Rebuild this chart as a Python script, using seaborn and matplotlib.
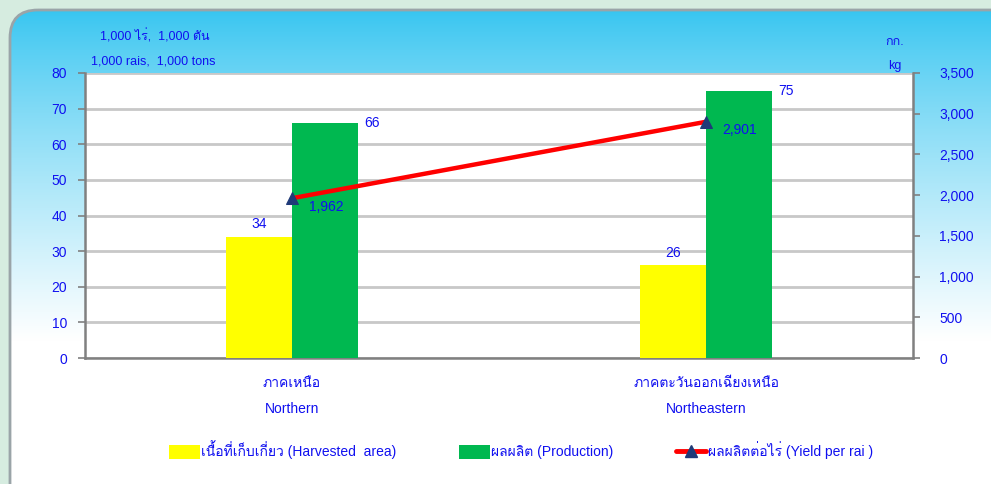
import numpy as np
import pandas as pd
import matplotlib
matplotlib.use("Agg")
import matplotlib.pyplot as plt
import seaborn as sns
from matplotlib import font_manager as fm
from matplotlib.patches import FancyBboxPatch, Patch
from matplotlib.lines import Line2D
import matplotlib.transforms as mtransforms

# ---------------- data ----------------
regions_th = ["ภาคเหนือ", "ภาคตะวันออกเฉียงเหนือ"]
regions_en = ["Northern", "Northeastern"]
harvested = [34, 26]          # 1,000 rai
production = [66, 75]         # 1,000 tons
yield_per_rai = [1962, 2901]  # kg
left_ticks = [0, 10, 20, 30, 40, 50, 60, 70, 80]
right_ticks = [0, 500, 1000, 1500, 2000, 2500, 3000, 3500]
series_names = ["เนื้อที่เก็บเกี่ยว (Harvested  area)", "ผลผลิต (Production)", "ผลผลิตต่อไร่ (Yield per rai )"]

# ---------------- fonts ----------------
sns.set_theme(style="white")
thai_fams = []
try:
    from fontTools.ttLib import TTFont
    for f in fm.fontManager.ttflist:
        try:
            tt = TTFont(f.fname, fontNumber=0, lazy=True)
            cmap = tt.getBestCmap()
            if cmap and 0x0E20 in cmap and f.name not in thai_fams:
                thai_fams.append(f.name)
        except Exception:
            pass
except Exception:
    pass
pref = [n for n in ["Loma", "Anuphan"] if n in thai_fams]
others = [n for n in thai_fams if n not in pref and "Unifont" not in n]
fams = ["Liberation Sans"] + pref + others + ["DejaVu Sans"]
plt.rcParams["font.family"] = fams
TXT = "#1010f0"

W, H = 991, 484
fig = plt.figure(figsize=(W / 100, H / 100), dpi=100)
fig.patch.set_facecolor("#d6ece0")

# background panel with gradient
bg = fig.add_axes([0, 0, 1, 1], zorder=-10)
bg.set_xlim(0, W); bg.set_ylim(H, 0); bg.axis("off")
panel = FancyBboxPatch((10, 10), W + 40, H + 40, boxstyle="round,pad=0,rounding_size=28",
                       facecolor="none", edgecolor="#9aa4a8", lw=2.0)
bg.add_patch(panel)
yy = np.linspace(0, 1, 300)[:, None]
t = np.clip(yy * H / 340.0, 0, 1) ** 0.8
c0 = np.array([0.17, 0.76, 0.94]); c1 = np.array([1.0, 1.0, 1.0])
grad = (c0[None, None, :] * (1 - t[..., None]) + c1[None, None, :] * t[..., None])
grad = np.repeat(grad, 2, axis=1)
im = bg.imshow(grad, extent=[0, W, H, 0], aspect="auto", zorder=0)
im.set_clip_path(panel)

# main axes
x0, x1, ytop, ybot = 85, 913, 73, 358
ax = fig.add_axes([x0 / W, (H - ybot) / H, (x1 - x0) / W, (ybot - ytop) / H])
ax.set_facecolor("white")

df = pd.DataFrame({
    "region": regions_en * 2,
    "series": [series_names[0]] * 2 + [series_names[1]] * 2,
    "value": harvested + production,
})
sns.barplot(data=df, x="region", y="value", hue="series",
            palette=["#ffff00", "#00b850"], width=0.32, gap=0,
            saturation=1, ax=ax, legend=False, zorder=3, linewidth=0)

ax.set_xlim(-0.5, 1.5)
ax.set_ylim(0, 80)
ax.set_yticks(left_ticks)
ax.set_yticklabels([str(v) for v in left_ticks], color=TXT, fontsize=10)
ax.yaxis.grid(True, color="#c8c8c8", lw=2.0, zorder=0)
ax.set_axisbelow(True)
ax.set_xticks([])
ax.set_xticks([-0.5, 0.5, 1.5], minor=True)
ax.tick_params(axis="x", which="minor", length=5, color="#808080", width=1.2, direction="out")
ax.tick_params(axis="y", length=5, color="#808080", width=1.2, direction="out", pad=8, left=True)
ax.set_xlabel(""); ax.set_ylabel("")
for s in ["left", "bottom", "right"]:
    ax.spines[s].set_color("#808080"); ax.spines[s].set_linewidth(1.8)
ax.spines["top"].set_visible(False)

# bar value labels
bar_pos = [-0.08, 0.92]
for i in range(2):
    ax.annotate(f"{harvested[i]}", (bar_pos[i], harvested[i]), xytext=(0, 4),
                textcoords="offset points", ha="center", va="bottom", color=TXT, fontsize=10)
    ax.annotate(f"{production[i]}", (bar_pos[i] + 0.16 + 0.08, production[i]), xytext=(4, 0),
                textcoords="offset points", ha="left", va="center", color=TXT, fontsize=10)

# category labels
trans = mtransforms.blended_transform_factory(ax.transData, fig.transFigure)
for i in range(2):
    ax.text(i, 1 - 383 / H, regions_th[i], transform=trans, ha="center", va="center",
            color=TXT, fontsize=10)
    ax.text(i, 1 - 409 / H, regions_en[i], transform=trans, ha="center", va="center",
            color=TXT, fontsize=10)

# secondary axis
ax2 = ax.twinx()
sns.lineplot(x=[0, 1], y=yield_per_rai, ax=ax2, color="#ff0000", lw=3.2, zorder=5,
             marker="^", markersize=9, markerfacecolor="#1f3a78", markeredgecolor="#1f3a78")
ax2.set_ylim(0, 3500)
ax2.set_yticks(right_ticks)
ax2.set_yticklabels([f"{v:,}" for v in right_ticks], color=TXT, fontsize=10)
ax2.tick_params(axis="y", length=5, color="#808080", width=1.2, direction="out", pad=14, right=True)
ax2.grid(False)
for s in ax2.spines.values():
    s.set_visible(False)
for i in range(2):
    ax2.annotate(f"{yield_per_rai[i]:,}", (i, yield_per_rai[i]), xytext=(12, -6),
                 textcoords="offset points", ha="left", va="center", color=TXT, fontsize=10)

# unit labels
fig.text(100 / W, 1 - 36 / H, "1,000 ไร่,  1,000 ตัน", color=TXT, fontsize=9, va="center", ha="left")
fig.text(91 / W, 1 - 61 / H, "1,000 rais,  1,000 tons", color=TXT, fontsize=9, va="center", ha="left")
fig.text(895 / W, 1 - 42 / H, "กก.", color=TXT, fontsize=9, va="center", ha="center")
fig.text(895 / W, 1 - 66 / H, "kg", color=TXT, fontsize=9, va="center", ha="center")

# legend
handles = [Patch(facecolor="#ffff00", edgecolor="none"),
           Patch(facecolor="#00b850", edgecolor="none"),
           Line2D([0], [0], color="#ff0000", lw=3.5, marker="^", markersize=9,
                  markerfacecolor="#1f3a78", markeredgecolor="#1f3a78")]
leg = fig.legend(handles, series_names, loc="center", bbox_to_anchor=(521 / W, 1 - 450 / H),
                 ncol=3, frameon=False, fontsize=10, handlelength=2.2, handleheight=1.2,
                 handletextpad=0.1, columnspacing=4.5)
for t_ in leg.get_texts():
    t_.set_color(TXT)

fig.savefig("out.png", dpi=100, facecolor=fig.get_facecolor())
